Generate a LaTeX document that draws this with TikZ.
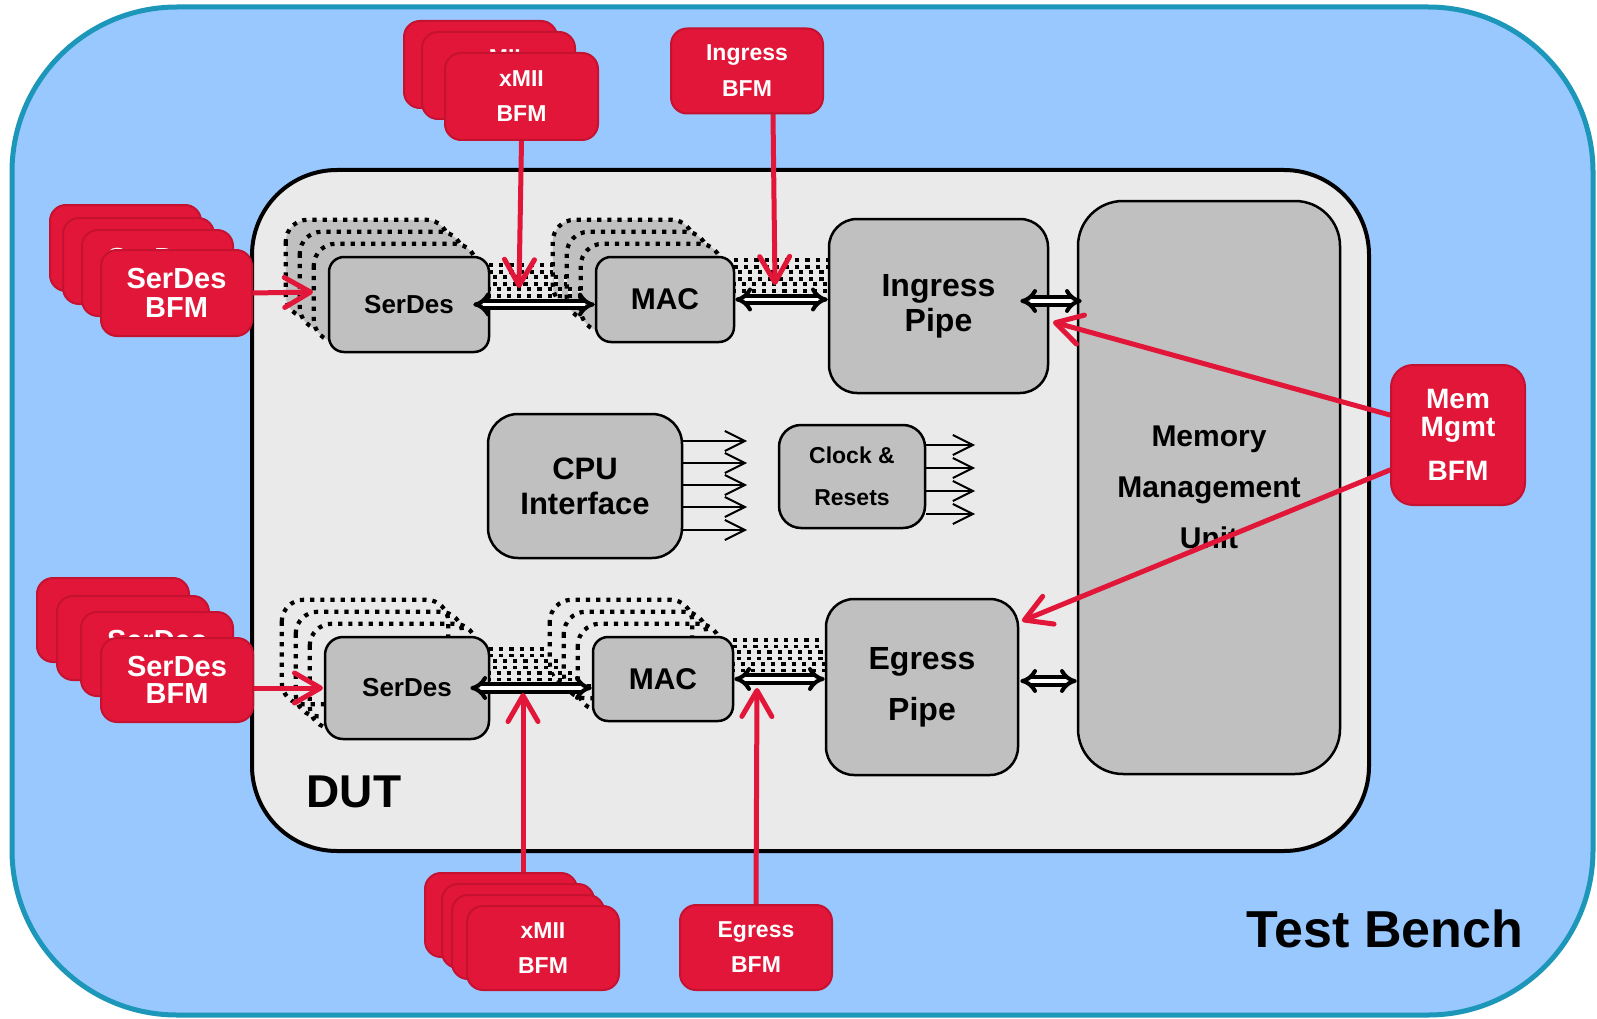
\documentclass[tikz,border=0pt]{standalone}
\usepackage{fontspec}
\setmainfont{Liberation Sans}
\usetikzlibrary{arrows.meta,calc}
\pgfdeclarelayer{back}
\pgfdeclarelayer{shadow}
\pgfdeclarelayer{arrowsL}
\pgfdeclarelayer{bfmL}
\pgfsetlayers{back,shadow,main,arrowsL,bfmL}
\definecolor{tbfill}{RGB}{153,200,255}
\definecolor{tbdraw}{RGB}{28,150,185}
\definecolor{dutfill}{RGB}{234,234,234}
\definecolor{boxgray}{RGB}{192,192,192}
\definecolor{bfmred}{RGB}{226,22,56}
\definecolor{bfmdraw}{RGB}{196,18,48}
\newcommand{\myfs}[2]{\fontsize{#1}{#2}\selectfont\bfseries}
\begin{document}
\begin{tikzpicture}[x=1pt,y=-1pt,
  blk/.style={draw=black, line width=2.5pt, fill=boxgray, align=center, inner sep=0pt},
  bfm/.style={draw=bfmdraw, line width=2pt, fill=bfmred, text=white, align=center, inner sep=0pt, rounded corners=16pt, minimum width=152pt, minimum height=85pt},
  shbox/.style={draw=black, line width=4.2pt, dash pattern=on 4.2pt off 6pt, rounded corners=22pt},
  shbus/.style={draw=black, line width=3.6pt, dash pattern=on 4.2pt off 6pt, double=dutfill, double distance=3pt},
  bus/.style={draw=black, line width=4pt, double=white, double distance=3.5pt, {Implies[length=8pt]}-{Implies[length=8pt]}},
  sig/.style={draw=black, line width=2pt, -{Straight Barb[length=20pt,width=20pt]}},
  redarrow/.style={draw=bfmred, line width=5pt, line cap=round, -{Straight Barb[length=26pt,width=30pt,round]}},
]
\useasboundingbox (0,0) rectangle (1597,1019);

% containers
\begin{pgfonlayer}{back}
\node[draw=tbdraw, fill=tbfill, line width=5pt, rounded corners=165pt, minimum width=1581pt, minimum height=1008pt, inner sep=0pt] (tb) at (802.5,511) {};
\node[draw=black, fill=dutfill, line width=4pt, rounded corners=85pt, minimum width=1117pt, minimum height=681pt, inner sep=0pt] (dut) at (810.5,510.5) {};
\end{pgfonlayer}

% blocks
\node[blk, rounded corners=15pt, minimum width=160pt, minimum height=95pt, font=\myfs{26}{30}] (serdesT) at (409,304.5) {SerDes};
\node[blk, rounded corners=15pt, minimum width=138pt, minimum height=85pt, font=\myfs{30}{34}] (macT) at (665,299.5) {MAC};
\node[blk, rounded corners=28pt, minimum width=219pt, minimum height=174pt, font=\myfs{32}{35}] (ingress) at (938.5,306) {Ingress\\Pipe};
\node[blk, rounded corners=45pt, minimum width=262pt, minimum height=573pt, font=\myfs{30}{51}] (mmu) at (1209,487.5) {Memory\\Management\\Unit};
\node[blk, rounded corners=30pt, minimum width=194pt, minimum height=144pt, font=\myfs{31}{35}] (cpu) at (585,486) {CPU\\Interface};
\node[blk, rounded corners=22pt, minimum width=146pt, minimum height=103pt, font=\myfs{23}{42}] (clk) at (852,476.5) {Clock \&\\Resets};
\node[blk, rounded corners=18pt, minimum width=164pt, minimum height=102pt, font=\myfs{26}{30}] (serdesB) at (407,688) {SerDes};
\node[blk, rounded corners=15pt, minimum width=140pt, minimum height=84pt, font=\myfs{30}{34}] (macB) at (663,679) {MAC};
\node[blk, rounded corners=28pt, minimum width=192pt, minimum height=176pt, font=\myfs{32}{51}] (egress) at (922,687) {Egress\\Pipe};

\node[font=\myfs{46}{50}, inner sep=0pt] (dutlabel) at (354,792) {DUT};
\node[font=\myfs{52}{56}, inner sep=0pt] (tblabel) at (1385,929) {Test Bench};

% buses
\coordinate (serTs) at ($(serdesT.east)+(-17,0)$);
\coordinate (macTw) at (serdesT.east -| macT.west);
\coordinate (ingW) at (macT.east -| ingress.west);
\coordinate (ingE) at ($(ingress.east)+(-29,-5)$);
\coordinate (mmuTw) at ($(ingE -| mmu.west)+(5,0)$);
\coordinate (serBs) at ($(serdesB.east)+(-20,0)$);
\coordinate (macBw) at (serdesB.east -| macB.west);
\coordinate (egW) at (macB.east -| egress.west);
\coordinate (egE) at ($(egress.east)+(1,-6)$);
\draw[bus] (serTs) -- (macTw);
\draw[bus] (macT.east) -- (ingW);
\draw[bus] (ingE) -- (mmuTw);
\draw[bus] (serBs) -- (macBw);
\draw[bus] (macB.east) -- (egW);
\draw[bus] (egE) -- (egE -| mmu.west);

% cpu / clock signals
\foreach \yy [count=\i] in {441,463,485,507,530} {
  \coordinate (cpuT\i) at (747,\yy);
  \draw[sig] (cpu.east |- cpuT\i) -- (cpuT\i);
}
\foreach \yy [count=\i] in {445,468,491,514} {
  \coordinate (clkT\i) at (975,\yy);
  \draw[sig] (clk.east |- clkT\i) -- (clkT\i);
}

% shadows of replicated channels
\begin{pgfonlayer}{shadow}
\foreach \k in {3,2,1} {
  \draw[shbox, fill=boxgray] ($(serdesT.north west)+(-14*\k,-12*\k)$) rectangle ($(serdesT.south east)+(-14*\k,-12*\k)$);
  \draw[shbox, fill=boxgray] ($(macT.north west)+(-14*\k,-12*\k)$) rectangle ($(macT.south east)+(-14*\k,-12*\k)$);
  \draw[shbox] ($(serdesB.north west)+(-14*\k,-12*\k)$) rectangle ($(serdesB.south east)+(-14*\k,-12*\k)$);
  \draw[shbox] ($(macB.north west)+(-14*\k,-12*\k)$) rectangle ($(macB.south east)+(-14*\k,-12*\k)$);
}
\foreach \k in {1,2,3} {
  \path ($(serdesT.east)+(-14*\k,-12*\k)$) coordinate (sa)
        ($(macTw)+(-14*\k,-12*\k)$) coordinate (sb)
        ($(macT.east)+(-14*\k,-12*\k)$) coordinate (sc)
        ($(serdesB.east)+(-14*\k,-12*\k)$) coordinate (sd)
        ($(macBw)+(-14*\k,-12*\k)$) coordinate (se)
        ($(macB.east)+(-14*\k,-12*\k)$) coordinate (sf);
  \draw[shbus] (sa) -- (sb);
  \draw[shbus] (sc) -- (sc -| ingress.west);
  \draw[shbus] (sd) -- (se);
  \draw[shbus] (sf) -- (sf -| egress.west);
}
\end{pgfonlayer}

% BFMs
\begin{pgfonlayer}{bfmL}
\foreach \cx/\cy [count=\i] in {125.5/248, 138.5/261, 157.5/273, 176.5/293} {
  \node[bfm, minimum width=151pt, minimum height=86pt, font=\myfs{29}{29}] (sbT\i) at (\cx,\cy) {SerDes\\BFM};
}
\foreach \cx/\cy [count=\i] in {113/620, 133/638, 157/654, 177/680} {
  \node[bfm, minimum width=152pt, minimum height=84pt, font=\myfs{29}{27}] (sbB\i) at (\cx,\cy) {SerDes\\BFM};
}
\foreach \cx/\cy [count=\i] in {480.5/64.5, 498.5/75.5, 521.5/96.5} {
  \node[bfm, minimum width=153pt, minimum height=87pt, font=\myfs{23}{35}] (xbT\i) at (\cx,\cy) {xMII\\BFM};
}
\foreach \cx/\cy [count=\i] in {501/915, 518/926, 528/937, 543/948} {
  \node[bfm, minimum width=152pt, minimum height=84pt, font=\myfs{23}{35}] (xbB\i) at (\cx,\cy) {xMII\\BFM};
}
\node[bfm, font=\myfs{23}{36}] (ingbfm) at (747,71) {Ingress\\BFM};
\node[bfm, font=\myfs{23}{35}] (egbfm) at (756,947.5) {Egress\\BFM};
\node[bfm, rounded corners=22pt, minimum width=134pt, minimum height=140pt, font=\myfs{28}{28}] (membfm) at (1458,435) {Mem\\Mgmt\\[16pt]BFM};
\end{pgfonlayer}

% red stimulus arrows
\begin{pgfonlayer}{arrowsL}
\coordinate (tSerT) at (313,292);
\coordinate (tSerB) at (323,688);
\coordinate (tXT) at (519,288);
\coordinate (tIng) at (775,285);
\coordinate (tXB) at (523,693);
\coordinate (tEg) at (757,688);
\coordinate (tMem1) at (1053,322);
\coordinate (tMem2) at (1022,621);
\coordinate (sIng) at ($(ingbfm.south)+(26,0)$);
\coordinate (sSerB) at ($(sbB4.east)+(0,8)$);
\coordinate (sXB) at (xbB1.north -| tXB);
\coordinate (sMem1) at ($(membfm.west)+(0,-20)$);
\coordinate (sMem2) at ($(membfm.west)+(0,35)$);
\draw[redarrow] (sbT4.east) -- (tSerT);
\draw[redarrow] (sSerB) -- (tSerB);
\draw[redarrow] (xbT3.south) -- (tXT);
\draw[redarrow] (sIng) -- (tIng);
\draw[redarrow] (sXB) -- (tXB);
\draw[redarrow] (egbfm.north) -- (tEg);
\draw[redarrow] (sMem1) -- (tMem1);
\draw[redarrow] (sMem2) -- (tMem2);
\end{pgfonlayer}
\end{tikzpicture}
\end{document}
